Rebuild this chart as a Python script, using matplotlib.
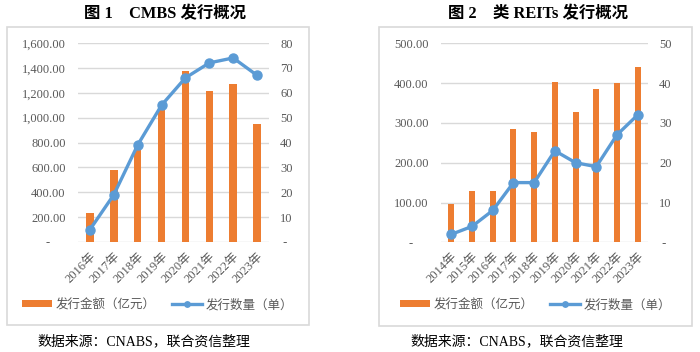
import matplotlib
matplotlib.use("Agg")
from matplotlib import pyplot as plt
from matplotlib.patches import Rectangle
from matplotlib.ticker import FuncFormatter, MultipleLocator

# Figure 1 - CMBS
cmbs_years = ["2016年", "2017年", "2018年", "2019年", "2020年", "2021年", "2022年", "2023年"]
cmbs_amount = [230, 578, 780, 1080, 1376, 1215, 1267, 945]
cmbs_count = [5, 19, 39, 55, 66, 72, 74, 67]

# Figure 2 - REITs-like
reits_years = ["2014年", "2015年", "2016年", "2017年", "2018年", "2019年", "2020年", "2021年", "2022年", "2023年"]
reits_amount = [95, 130, 130, 285, 276, 402, 327, 386, 401, 441]
reits_count = [2, 4, 8, 15, 15, 23, 20, 19, 27, 32]

titles = ["图 1　CMBS 发行概况", "图 2　类 REITs 发行概况"]
bar_label = "发行金额（亿元）"
line_label = "发行数量（单）"
source = "数据来源：CNABS，联合资信整理"

ORANGE = "#ED7D31"
BLUE = "#5B9BD5"
GRID = "#D9D9D9"
TICK = "#595959"
FONTS = ["Liberation Serif", "Noto Sans CJK SC"]

plt.rcParams["font.family"] = FONTS
plt.rcParams["font.size"] = 9

W, H = 700, 352


def fx(px):
    return px / W


def fy(py):
    return 1 - py / H


def left_fmt(v, pos):
    if abs(v) < 1e-9:
        return "-     "
    return "{:,.2f}".format(v)


def right_fmt(v, pos):
    if abs(v) < 1e-9:
        return " -"
    return "{:.0f}".format(v)


def draw_panel(fig, box, axbox, years, amount, count, ymax, ystep, y2max, y2step,
               bar_w, title, title_x, legend_x, source_x):
    x0, y0, x1, y1 = box
    fig.patches.append(Rectangle((fx(x0), fy(y1)), fx(x1 - x0), (y1 - y0) / H,
                                 transform=fig.transFigure, fill=False,
                                 edgecolor=GRID, linewidth=1.2))
    l, t, r, b = axbox
    ax = fig.add_axes([fx(l), fy(b), fx(r - l), (b - t) / H])
    ax2 = ax.twinx()
    xs = list(range(len(years)))
    bars = ax.bar(xs, amount, width=bar_w, color=ORANGE, zorder=2)
    line, = ax2.plot(xs, count, color=BLUE, linewidth=2.4, marker="o",
                     markersize=6.5, zorder=3)
    ax.set_xlim(-0.5, len(years) - 0.5)
    ax.set_ylim(0, ymax)
    ax2.set_ylim(0, y2max)
    ax.yaxis.set_major_locator(MultipleLocator(ystep))
    ax2.yaxis.set_major_locator(MultipleLocator(y2step))
    ax.yaxis.set_major_formatter(FuncFormatter(left_fmt))
    ax2.yaxis.set_major_formatter(FuncFormatter(right_fmt))
    ax.grid(axis="y", color=GRID, linewidth=1.0, zorder=0)
    ax.set_axisbelow(True)
    for a in (ax, ax2):
        for s in a.spines.values():
            s.set_visible(False)
        a.tick_params(length=0, colors=TICK, labelsize=9)
    ax.tick_params(axis="y", pad=9)
    ax2.tick_params(axis="y", pad=8)
    ax.set_xticks(xs)
    ax.set_xticklabels(years, rotation=45, ha="right", rotation_mode="anchor")
    ax.tick_params(axis="x", pad=6)
    fig.text(fx(title_x), fy(14), title, ha="center", va="center",
             fontsize=11.8, fontweight="bold", color="black")
    fig.legend([bars, line], [bar_label, line_label], loc="center",
               bbox_to_anchor=(fx(legend_x), fy(305)), ncol=2, frameon=False,
               handlelength=2.4, handleheight=0.5, columnspacing=1.3,
               handletextpad=0.3, markerscale=0.6,
               prop={"family": FONTS, "size": 9}, labelcolor=TICK)
    fig.text(fx(source_x), fy(341), source, ha="left", va="center",
             fontsize=10, color="black")


fig = plt.figure(figsize=(7, 3.52), dpi=100)
draw_panel(fig, (7, 27, 309, 325), (78, 43, 269, 242), cmbs_years, cmbs_amount,
           cmbs_count, 1600, 200, 80, 10, 0.31, titles[0], 165, 158, 37)
draw_panel(fig, (379, 27, 692, 326), (441, 43.3, 648, 242.3), reits_years,
           reits_amount, reits_count, 500, 100, 50, 10, 0.29, titles[1], 538,
           536, 410)
fig.savefig("out.png", dpi=100, facecolor="white")
